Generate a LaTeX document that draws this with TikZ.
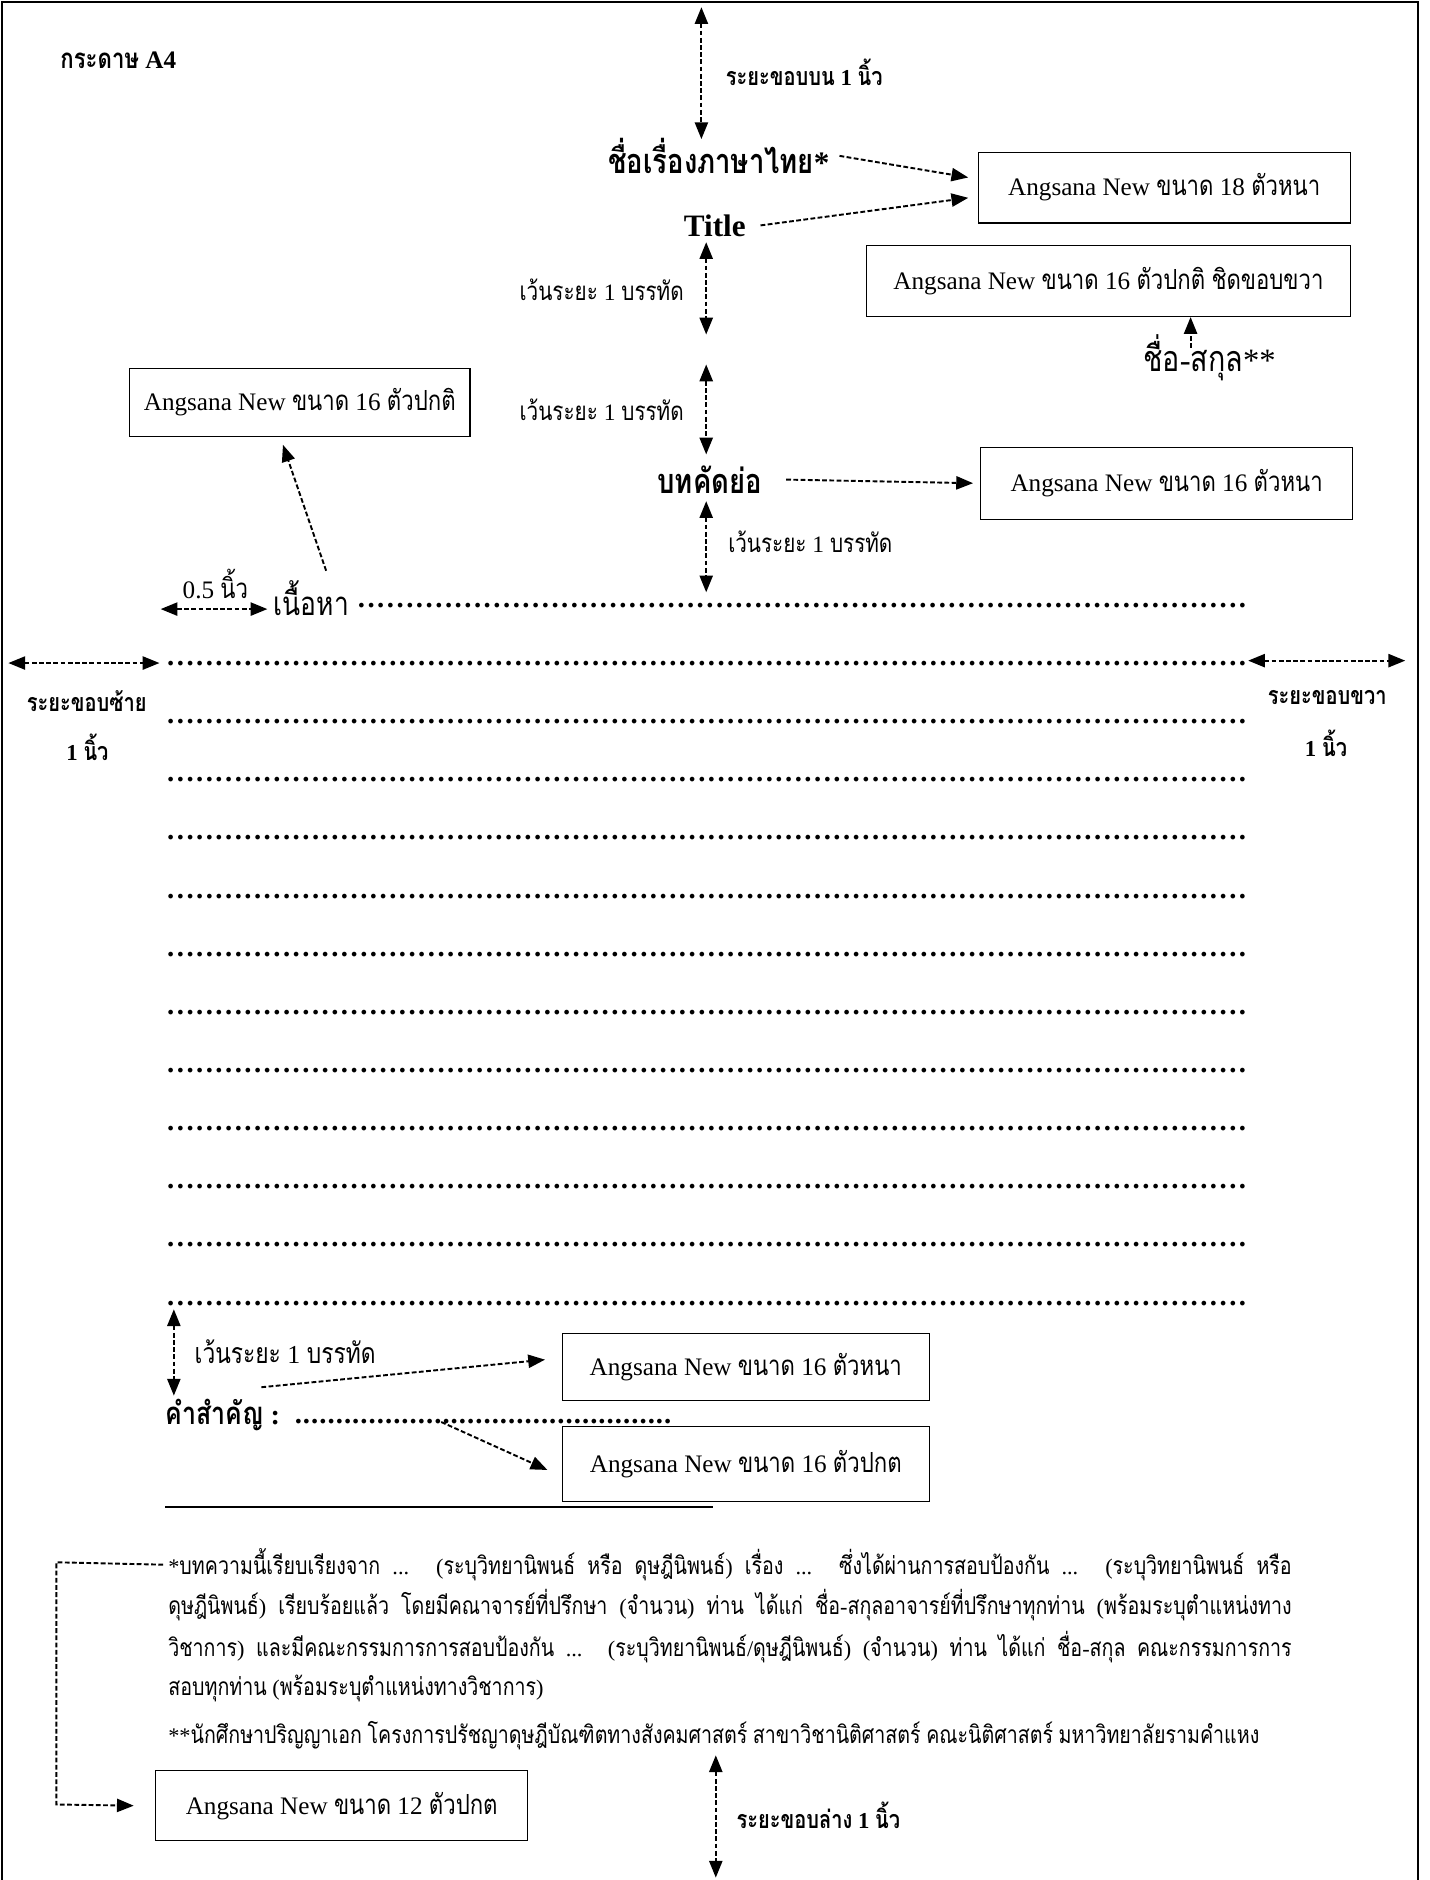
\documentclass[tikz,border=0pt]{standalone}
\usepackage{fontspec}
\setmainfont{Liberation Serif}
\newfontfamily\thaifont[Script=Thai,Scale=1.1,FakeStretch=0.8]{Loma}
\usetikzlibrary{arrows.meta}
\XeTeXinterchartokenstate=1
\newXeTeXintercharclass\thaiclass
\newcount\thc
\thc="0E01
\loop\XeTeXcharclass\thc=\thaiclass\advance\thc by 1 \ifnum\thc<"0E5C \repeat
\XeTeXinterchartoks 0 \thaiclass = {\begingroup\thaifont}
\XeTeXinterchartoks 4095 \thaiclass = {\begingroup\thaifont}
\XeTeXinterchartoks \thaiclass 0 = {\endgroup}
\XeTeXinterchartoks \thaiclass 4095 = {\endgroup}
\newcommand\dotrow[2]{\hbox to #1{\xleaders\hbox to #2{\hss.\hss}\hfill}}
\newcommand\fsz[1]{\fontsize{#1}{#1}\selectfont}
\newcommand\fitline[1]{\makebox[468.5pt][s]{#1}}
\tikzset{
  lbl/.style={inner sep=0pt, anchor=west, font=\fsz{9.8}},
  boldlbl/.style={lbl, font=\fsz{9.5}\bfseries},
  bigl/.style={inner sep=0pt, anchor=west, font=\fsz{12.5}},
  note/.style={inner sep=0pt, anchor=west, font=\fsz{9.3}},
  dotline/.style={inner sep=0pt, anchor=base west, font=\fsz{12}\bfseries},
  fbox/.style={draw, line width=0.45pt, inner sep=0pt, font=\fsz{10.5}},
  tip/.style={-{Triangle[length=7pt,width=5.5pt]}, dash pattern=on 2pt off 1pt, line width=0.8pt},
  dtip/.style={{Triangle[length=7pt,width=5.5pt]}-{Triangle[length=7pt,width=5.5pt]}, dash pattern=on 2pt off 1pt, line width=0.8pt},
}
\begin{document}
\begin{tikzpicture}[x=0.5pt,y=-0.5pt]
\useasboundingbox (0,0) rectangle (1192,1568);
% page frame
\draw[line width=0.8pt] (2,1568) -- (2,2) -- (1183,2) -- (1183,1568);
% header
\node[boldlbl, font=\fsz{10.5}\bfseries] (paper) at (50,50) {กระดาษ A4};
\coordinate (topA) at (585,6);
\coordinate (topB) at (585,116);
\draw[dtip] (topA) -- (topB);
\node[boldlbl] (topL) at (605,60) {ระยะขอบบน 1 นิ้ว};
\node[inner sep=0pt, anchor=west, font=\fsz{13}\bfseries] (titleTH) at (507,130) {ชื่อเรื่องภาษาไทย*};
\node[inner sep=0pt, anchor=west, font=\fsz{13}\bfseries] (titleEN) at (570,188) {Title};
\node[fbox, minimum width=155pt, minimum height=29.5pt] (b1) at (971,156.5) {Angsana New ขนาด 18 ตัวหนา};
\draw[tip] ([xshift=4pt]titleTH.east) -- ([xshift=-4pt,yshift=4.25pt]b1.west);
\draw[tip] ([xshift=6pt]titleEN.east) -- ([xshift=-4pt,yshift=-4.25pt]b1.west);
\node[fbox, minimum width=201.5pt, minimum height=29.5pt] (b2) at (924.5,234.5) {Angsana New ขนาด 16 ตัวปกติ ชิดขอบขวา};
\node[bigl, font=\fsz{13.6}] (name) at (953,298) {ชื่อ-สกุล**};
\coordinate (nameTop) at (993,290);
\draw[tip] (nameTop) -- (b2.south -| nameTop);
% vertical gaps
\coordinate (g1a) at (589,202); \coordinate (g1b) at (589,279);
\draw[dtip] (g1a) -- (g1b);
\node[lbl] (g1) at (433,242) {เว้นระยะ 1 บรรทัด};
\coordinate (g2a) at (589,304); \coordinate (g2b) at (589,379);
\draw[dtip] (g2a) -- (g2b);
\node[lbl] (g2) at (433,342) {เว้นระยะ 1 บรรทัด};
\node[inner sep=0pt, anchor=west, font=\fsz{13}\bfseries] (abs) at (548,400) {บทคัดย่อ};
\node[fbox, minimum width=155pt, minimum height=30pt] (b4) at (973,403) {Angsana New ขนาด 16 ตัวหนา};
\draw[tip] ([xshift=10pt]abs.east) -- ([xshift=-3pt]b4.west);
\coordinate (g3a) at (589,418); \coordinate (g3b) at (589,494);
\draw[dtip] (g3a) -- (g3b);
\node[lbl] (g3) at (607,452) {เว้นระยะ 1 บรรทัด};
\node[fbox, minimum width=142pt, minimum height=28.5pt] (b3) at (250,335.5) {Angsana New ขนาด 16 ตัวปกติ};
% content
\node[bigl] (content) at (228,499) {เนื้อหา};
\node[dotline] (dots0) at (297,507) {\dotrow{371.5pt}{4pt}};
\coordinate (cA) at (272,476);
\draw[tip] (cA) -- (236,371);
\node[lbl, font=\fsz{10.5}] (half) at (152,487) {0.5 นิ้ว};
\coordinate (hA) at (134,508); \coordinate (hB) at (223,508);
\draw[dtip] (hA) -- (hB);
\foreach \yy [count=\i] in {553,601.5,650,698.5,747,795.5,844,892.5,941,989.5,1038,1086.5}
  \node[dotline] (row\i) at (138,\yy+2) {\dotrow{451pt}{4pt}};
% margins
\coordinate (lA) at (7,553); \coordinate (lB) at (133,553);
\draw[dtip] (lA) -- (lB);
\node[boldlbl] (leftL) at (22,585) {ระยะขอบซ้าย};
\node[boldlbl] (leftL2) at (55,623) {1 นิ้ว};
\coordinate (rA) at (1041,551); \coordinate (rB) at (1172,551);
\draw[dtip] (rA) -- (rB);
\node[boldlbl] (rightL) at (1057,582) {ระยะขอบขวา};
\node[boldlbl] (rightL2) at (1088,620) {1 นิ้ว};
% keywords
\coordinate (g4a) at (145,1092); \coordinate (g4b) at (145,1164);
\draw[dtip] (g4a) -- (g4b);
\node[lbl, font=\fsz{10.8}] (g4) at (162,1127) {เว้นระยะ 1 บรรทัด};
\node[inner sep=0pt, anchor=west, font=\fsz{11.8}\bfseries] (kw) at (138,1180) {คำสำคัญ :};
\node[dotline] (kwdots) at (245,1187) {\dotrow{157.5pt}{3.4pt}};
\node[fbox, minimum width=153pt, minimum height=28pt] (b5) at (622,1140) {Angsana New ขนาด 16 ตัวหนา};
\node[fbox, minimum width=153pt, minimum height=31pt] (b6) at (622,1221) {Angsana New ขนาด 16 ตัวปกต};
\coordinate (kA) at (218,1157);
\draw[tip] (kA) -- ([xshift=-7pt,yshift=3pt]b5.west);
\coordinate (kB) at (368,1186);
\draw[tip] (kB) -- ([xshift=-6pt,yshift=-2.5pt]b6.west);
\draw[line width=0.8pt] (138,1257) -- (595,1257);
% footnotes
\node[note] (n1) at (140,1305) {\fitline{*บทความนี้เรียบเรียงจาก ... (ระบุวิทยานิพนธ์ หรือ ดุษฎีนิพนธ์) เรื่อง ... ซึ่งได้ผ่านการสอบป้องกัน ... (ระบุวิทยานิพนธ์ หรือ}};
\node[note] (n2) at (140,1339) {\fitline{ดุษฎีนิพนธ์) เรียบร้อยแล้ว โดยมีคณาจารย์ที่ปรึกษา (จำนวน) ท่าน ได้แก่ ชื่อ-สกุลอาจารย์ที่ปรึกษาทุกท่าน (พร้อมระบุตำแหน่งทาง}};
\node[note] (n3) at (140,1374) {\fitline{วิชาการ) และมีคณะกรรมการการสอบป้องกัน ... (ระบุวิทยานิพนธ์/ดุษฎีนิพนธ์) (จำนวน) ท่าน ได้แก่ ชื่อ-สกุล คณะกรรมการการ}};
\node[note] (n4) at (140,1408) {สอบทุกท่าน (พร้อมระบุตำแหน่งทางวิชาการ)};
\node[note] (n5) at (140,1448) {**นักศึกษาปริญญาเอก โครงการปรัชญาดุษฎีบัณฑิตทางสังคมศาสตร์ สาขาวิชานิติศาสตร์ คณะนิติศาสตร์ มหาวิทยาลัยรามคำแหง};
\node[fbox, minimum width=155pt, minimum height=29pt] (b7) at (285,1506) {Angsana New ขนาด 12 ตัวปกต};
\coordinate (brA) at (47,1303);
\coordinate (brB) at (47,1505);
\draw[tip] ([xshift=-2pt]n1.west) -- (brA) -- (brB) -- ([xshift=-9pt]b7.west);
\coordinate (bA) at (597,1464); \coordinate (bB) at (597,1566);
\draw[dtip] (bA) -- (bB);
\node[boldlbl] (botL) at (614,1514) {ระยะขอบล่าง 1 นิ้ว};
\end{tikzpicture}
\end{document}
